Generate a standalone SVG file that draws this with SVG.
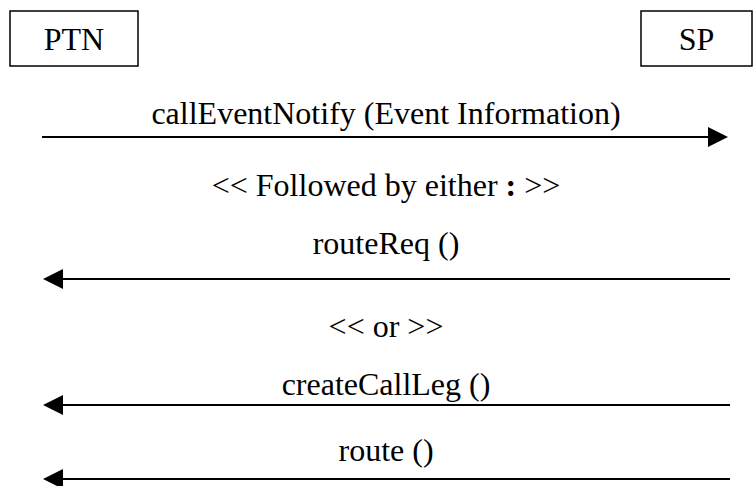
<svg xmlns="http://www.w3.org/2000/svg" width="754" height="486" viewBox="0 0 754 486">
<style>
text{font-family:"Liberation Serif","Times New Roman",serif;font-size:32px;fill:#000;text-anchor:middle}
.box{fill:#fff;stroke:#000;stroke-width:1.5}
.ln{stroke:#000;stroke-width:2;fill:none}
.hd{fill:#000}
</style>
<rect width="754" height="486" fill="#fff"/>
<g id="ptn"><rect class="box" x="10" y="11" width="128" height="55"/><text x="74" y="50">PTN</text></g>
<g id="sp"><rect class="box" x="641" y="11" width="111" height="55"/><text x="696.5" y="50">SP</text></g>
<g id="labels">
<text x="386" y="124">callEventNotify (Event Information)</text>
<text x="386" y="196">&lt;&lt; Followed by either <tspan font-weight="bold">:</tspan> &gt;&gt;</text>
<text x="386" y="254">routeReq ()</text>
<text x="386" y="337">&lt;&lt; or &gt;&gt;</text>
<text x="386" y="395">createCallLeg ()</text>
<text x="386" y="461">route ()</text>
</g>
<g id="connectors">
<line class="ln" x1="42" y1="137" x2="710" y2="137"/><polygon class="hd" points="728,137 708,127 708,147"/>
<line class="ln" x1="730" y1="279" x2="61" y2="279"/><polygon class="hd" points="43,279 63,269 63,289"/>
<line class="ln" x1="730" y1="405" x2="61" y2="405"/><polygon class="hd" points="43,405 63,395 63,415"/>
<line class="ln" x1="730" y1="479" x2="61" y2="479"/><polygon class="hd" points="43,479 63,469 63,489"/>
</g>
</svg>
